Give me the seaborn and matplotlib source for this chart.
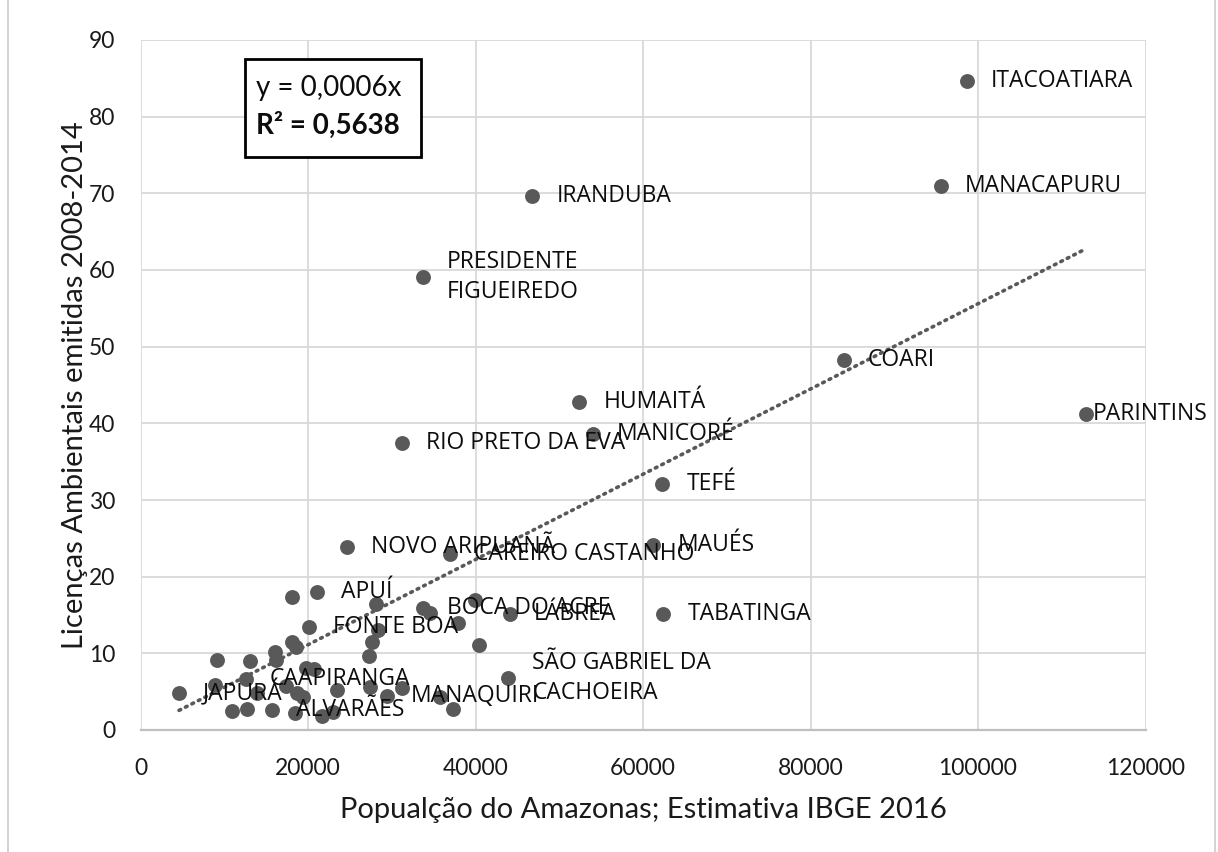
import numpy as np
import pandas as pd
import matplotlib
matplotlib.use("Agg")
import matplotlib.pyplot as plt
import seaborn as sns
from matplotlib.lines import Line2D
from matplotlib.patches import Rectangle

# Municipios do Amazonas (sem Manaus): populacao 2016 x licencas 2008-2014
municipios = [
    "ITACOATIARA", "MANACAPURU", "IRANDUBA", "PRESIDENTE\nFIGUEIREDO", "COARI",
    "PARINTINS", "HUMAITÁ", "MANICORÉ", "RIO PRETO DA EVA", "TEFÉ",
    "NOVO ARIPUANÃ", "CAREIRO CASTANHO", "MAUÉS", "APUÍ", "TABATINGA",
    "BOCA DO ACRE", "LÁBREA", "FONTE BOA", "SÃO GABRIEL DA\nCACHOEIRA", "CAAPIRANGA",
    "MANAQUIRI", "JAPURÁ", "ALVARÃES",
]
populacao_rotulada = [
    98650, 95540, 46780, 33690, 84000,
    112890, 52390, 53990, 31260, 62300,
    24660, 36950, 61230, 21040, 62420,
    33770, 44120, 20150, 43910, 12600,
    29400, 4600, 15670,
]
licencas_rotulada = [
    84.7, 70.9, 69.6, 59.1, 48.3,
    41.2, 42.8, 38.6, 37.5, 32.1,
    23.9, 23.0, 24.1, 18.0, 15.1,
    15.9, 15.1, 13.4, 6.8, 6.7,
    4.4, 4.8, 2.6,
]

# demais municipios (sem rotulo)
populacao_outros = [
    18130, 28120, 34560, 39940, 37890, 28390, 27600, 40450, 18050, 18570,
    16060, 16180, 9100, 13070, 27320, 19730, 20720, 8900, 23430, 27400,
    31190, 35760, 37280, 10890, 12750, 18450, 21640, 18650, 19440, 17370,
    13870, 23020,
]
licencas_outros = [
    17.3, 16.5, 15.3, 17.0, 13.9, 13.0, 11.5, 11.1, 11.5, 10.8,
    10.2, 9.1, 9.1, 9.0, 9.6, 8.1, 8.0, 5.9, 5.2, 5.6,
    5.5, 4.3, 2.7, 2.5, 2.7, 2.2, 1.8, 4.8, 4.3, 5.7,
    4.8, 2.4,
]

equacao = "y = 0,0006x"
r2_texto = "R² = 0,5638"
x_ticks = [0, 20000, 40000, 60000, 80000, 100000, 120000]
y_ticks = [0, 10, 20, 30, 40, 50, 60, 70, 80, 90]

df = pd.DataFrame({
    "pop": populacao_rotulada + populacao_outros,
    "lic": licencas_rotulada + licencas_outros,
    "nome": municipios + [""] * len(populacao_outros),
})

sns.set_theme(style="white")
plt.rcParams["font.family"] = ["Lato", "DejaVu Sans"]

W, H = 1218, 852
fig = plt.figure(figsize=(W / 100, H / 100), dpi=100)
ax = fig.add_axes([140.5 / W, 1 - 730 / H, 1005 / W, 690 / H])

ponto_cor = "#595959"
grade_cor = "#d9d9d9"

sns.scatterplot(data=df, x="pop", y="lic", ax=ax, color=ponto_cor,
                s=115, linewidth=0, zorder=3, legend=False)

# linha de tendencia linear pela origem
slope = np.sum(df["pop"] * df["lic"]) / np.sum(df["pop"] ** 2)
xs = np.array([df["pop"].min(), df["pop"].max()])
ax.plot(xs, slope * xs, linestyle=(0, (0.5, 1.5)), color=ponto_cor,
        linewidth=2.6, dash_capstyle="round", zorder=2)

# rotulos
offset_px = {"PARINTINS": 7}
for _, r in df.iterrows():
    if not r["nome"]:
        continue
    dx = offset_px.get(r["nome"], 24) * 72 / 100
    ax.annotate(r["nome"], (r["pop"], r["lic"]), xytext=(dx, 0),
                textcoords="offset points", ha="left", va="center",
                fontsize=16.5, family=["Open Sans", "DejaVu Sans"],
                color="#0d0d0d", zorder=4, linespacing=1.35)

ax.set_xlim(0, 120000)
ax.set_ylim(0, 90)
ax.set_xticks(x_ticks)
ax.set_xticklabels([str(v) for v in x_ticks])
ax.set_yticks(y_ticks)
ax.set_yticklabels([str(v) for v in y_ticks])
ax.tick_params(axis="both", length=0, labelsize=16.5, labelcolor="#1a1a1a")
ax.tick_params(axis="x", pad=20)
ax.tick_params(axis="y", pad=18)
ax.grid(True, color=grade_cor, linewidth=1.3)
ax.set_axisbelow(True)
for s in ["top", "right", "left"]:
    ax.spines[s].set_visible(False)
ax.spines["bottom"].set_color("#bfbfbf")
ax.spines["bottom"].set_linewidth(1.6)

ax.set_xlabel("Popualção do Amazonas; Estimativa IBGE 2016", fontsize=21,
              color="#1a1a1a", labelpad=13)
ax.set_ylabel("Licenças Ambientais emitidas 2008-2014", fontsize=21,
              color="#1a1a1a", labelpad=1)

# caixa da equacao
fig.patches.append(Rectangle((245 / W, 1 - 157 / H), 176 / W, 98 / H,
                             transform=fig.transFigure, fill=True,
                             facecolor="white", edgecolor="black",
                             linewidth=2, zorder=5))
fig.text(256 / W, 1 - 88 / H, equacao, fontsize=20, va="center", ha="left",
         color="#0d0d0d", zorder=6)
fig.text(256 / W, 1 - 125 / H, r2_texto, fontsize=20, va="center", ha="left",
         fontweight="bold", color="#0d0d0d", zorder=6)

# borda do grafico
for xb in (8, 1215):
    fig.lines.append(Line2D([xb / W, xb / W], [0, 1], transform=fig.transFigure,
                            color="#d0d0d0", linewidth=1.3))

fig.savefig("out.png", dpi=100)
